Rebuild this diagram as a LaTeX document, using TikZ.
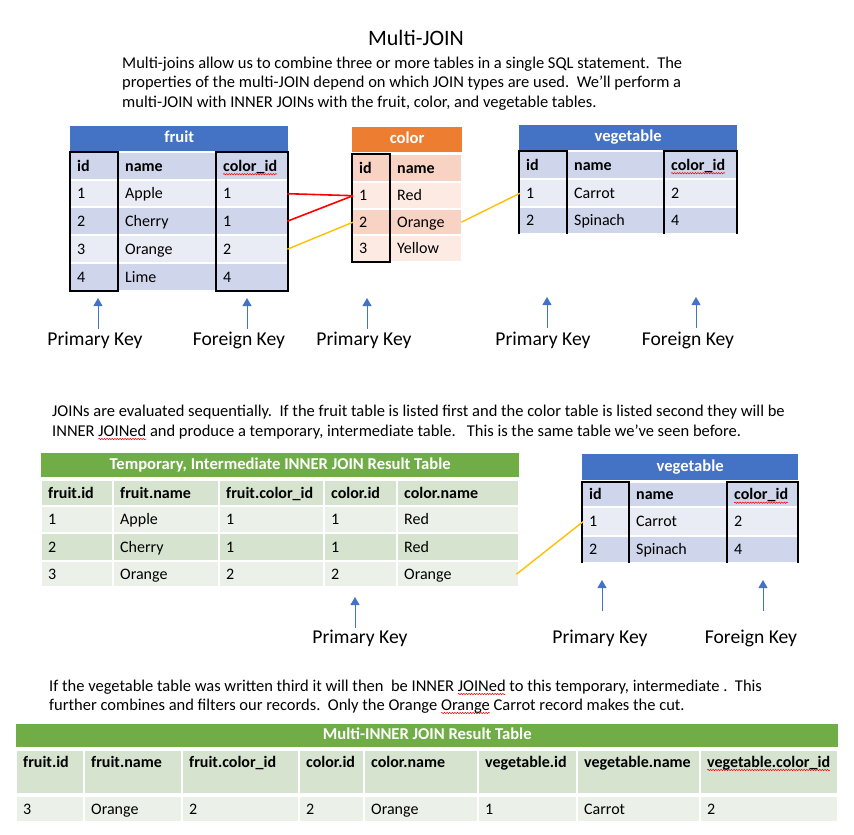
\documentclass[tikz,border=0pt]{standalone}
\usepackage{fontspec}
\setmainfont{Carlito}
\usetikzlibrary{arrows.meta,decorations.pathmorphing}
\definecolor{hblue}{HTML}{4472C4}
\definecolor{bdark}{HTML}{CFD5EA}
\definecolor{blight}{HTML}{E9EBF5}
\definecolor{horange}{HTML}{ED7D31}
\definecolor{odark}{HTML}{F8D3C3}
\definecolor{olight}{HTML}{FCEAE3}
\definecolor{hgreen}{HTML}{70AD47}
\definecolor{gdark}{HTML}{D5E3CF}
\definecolor{glight}{HTML}{EBF1E9}
\definecolor{linkyellow}{HTML}{FFC000}
\definecolor{linkred}{HTML}{FF0000}
\newsavebox\sqbox
\newcommand\sq[1]{\sbox\sqbox{#1}\rlap{\tikz[overlay,baseline=0pt]{\draw[linkred, line width=0.5pt, decorate, decoration={snake, amplitude=0.7pt, segment length=2.6pt}] (0pt,-3pt) -- (\wd\sqbox,-3pt);}}\usebox\sqbox}
\tikzset{
  cellbg/.style={rectangle, inner sep=0pt, draw=none},
  ctext/.style={inner sep=0pt, font=\fontsize{16}{19}\selectfont, text=black, anchor=base west},
  band/.style={rectangle, inner sep=0pt, anchor=north west, text=white, font=\fontsize{16.6}{19}\selectfont\bfseries, text height=11pt, text depth=3pt},
  tborder/.style={draw=black, line width=2pt},
  redlink/.style={draw=linkred, line width=1.6pt},
  yellink/.style={draw=linkyellow, line width=1.4pt},
  keyarrow/.style={draw=hblue, line width=1pt, -{Triangle[width=9pt,length=8pt]}},
  keylabel/.style={font=\fontsize{19.6}{23}\selectfont, inner sep=0pt, anchor=base},
  paraline/.style={font=\fontsize{16.5}{19.5}\selectfont, inner sep=0pt, anchor=base west},
}
% name, x1, y1, x2, y2, fill, text
\newcommand\tcell[7]{%
  \pgfmathsetmacro\cw{#4-#2-2}\pgfmathsetmacro\ch{#5-#3-2}%
  \node[cellbg, fill=#6, minimum width=\cw pt, minimum height=\ch pt, anchor=north west] (#1) at ({#2+1},{#3+1}) {};
  \node[ctext] (#1t) at ([xshift=6pt,yshift=-5pt]#1.west) {#7};
}
% top-aligned text variant
\newcommand\tcelltop[7]{%
  \pgfmathsetmacro\cw{#4-#2-2}\pgfmathsetmacro\ch{#5-#3-2}%
  \node[cellbg, fill=#6, minimum width=\cw pt, minimum height=\ch pt, anchor=north west] (#1) at ({#2+1},{#3+1}) {};
  \node[ctext] (#1t) at ([xshift=6pt,yshift=-16pt]#1.north west) {#7};
}
\newcommand\tband[7]{%
  \pgfmathsetmacro\cw{#4-#2}\pgfmathsetmacro\ch{#5-#3}%
  \node[band, fill=#6, minimum width=\cw pt, minimum height=\ch pt] (#1) at (#2,#3) {#7};
}
\begin{document}
\begin{tikzpicture}[x=1pt,y=-1pt]
\useasboundingbox (0,0) rectangle (854,835);
\fill[white] (0,0) rectangle (854,835);

% ---------- title and first paragraph ----------
\node[font=\fontsize{22}{26}\selectfont, inner sep=0pt, anchor=base] (title) at (416,45) {Multi-JOIN};
\node[paraline] (p1a) at (122,68) {Multi-joins allow us to combine three or more tables in a single SQL statement.\ \ The};
\node[paraline] (p1b) at (122,87.5) {properties of the multi-JOIN depend on which JOIN types are used.\ \ We’ll perform a};
\node[paraline] (p1c) at (122,107) {multi-JOIN with INNER JOINs with the fruit, color, and vegetable tables.};

% ---------- fruit table ----------
\tband{fruitband}{70}{126}{288}{151}{hblue}{fruit}
\tcell{f0id}{70}{152}{118}{180}{bdark}{\bfseries id}
\tcell{f0name}{118}{152}{216}{180}{bdark}{\bfseries name}
\tcell{f0cid}{216}{152}{288}{180}{bdark}{\bfseries\sq{color\_id}}
\tcell{f1id}{70}{180}{118}{207}{blight}{1}
\tcell{f1name}{118}{180}{216}{207}{blight}{Apple}
\tcell{f1cid}{216}{180}{288}{207}{blight}{1}
\tcell{f2id}{70}{207}{118}{235}{bdark}{2}
\tcell{f2name}{118}{207}{216}{235}{bdark}{Cherry}
\tcell{f2cid}{216}{207}{288}{235}{bdark}{1}
\tcell{f3id}{70}{235}{118}{263}{blight}{3}
\tcell{f3name}{118}{235}{216}{263}{blight}{Orange}
\tcell{f3cid}{216}{235}{288}{263}{blight}{2}
\tcell{f4id}{70}{263}{118}{291}{bdark}{4}
\tcell{f4name}{118}{263}{216}{291}{bdark}{Lime}
\tcell{f4cid}{216}{263}{288}{291}{bdark}{4}
\draw[tborder] (70,152) rectangle (118,291);
\draw[tborder] (216,152) rectangle (288,291);

% ---------- color table ----------
\tband{colorband}{352}{127}{462}{152}{horange}{color}
\tcell{c0id}{352}{154}{390}{182}{odark}{\bfseries id}
\tcell{c0name}{390}{154}{462}{182}{odark}{\bfseries name}
\tcell{c1id}{352}{182}{390}{209}{olight}{1}
\tcell{c1name}{390}{182}{462}{209}{olight}{Red}
\tcell{c2id}{352}{209}{390}{235}{odark}{2}
\tcell{c2name}{390}{209}{462}{235}{odark}{Orange}
\tcell{c3id}{352}{235}{390}{262}{olight}{3}
\tcell{c3name}{390}{235}{462}{262}{olight}{Yellow}
\draw[tborder] (352,154) rectangle (390,262);

% ---------- vegetable table ----------
\tband{vegband}{519}{125}{737}{150}{hblue}{vegetable}
\tcell{v0id}{519}{151}{567}{179}{bdark}{\bfseries id}
\tcell{v0name}{567}{151}{664}{179}{bdark}{\bfseries name}
\tcell{v0cid}{664}{151}{737}{179}{bdark}{\bfseries\sq{color\_id}}
\tcell{v1id}{519}{179}{567}{207}{blight}{1}
\tcell{v1name}{567}{179}{664}{207}{blight}{Carrot}
\tcell{v1cid}{664}{179}{737}{207}{blight}{2}
\tcell{v2id}{519}{207}{567}{234}{bdark}{2}
\tcell{v2name}{567}{207}{664}{234}{bdark}{Spinach}
\tcell{v2cid}{664}{207}{737}{234}{bdark}{4}
\draw[tborder] (519,234) -- (519,151) -- (567,151) -- (567,234);
\draw[tborder] (664,234) -- (664,151) -- (737,151) -- (737,234);

% ---------- links ----------
\draw[redlink] (f1cid.east) -- (c1id.west);
\draw[redlink] (f2cid.east) -- (c1id.west);
\draw[yellink] (f3cid.east) -- (c2id.west);
\draw[yellink] (c2name.east) -- (v1id.west);

% ---------- key labels (top) ----------
\node[keylabel] (k1) at (95,345) {Primary Key};
\node[keylabel] (k2) at (239,345) {Foreign Key};
\node[keylabel] (k3) at (364,345) {Primary Key};
\node[keylabel] (k4) at (543,345) {Primary Key};
\node[keylabel] (k5) at (688,345) {Foreign Key};
\coordinate (a1s) at (98,329);  \coordinate (a1e) at (98,298);
\coordinate (a2s) at (247,329); \coordinate (a2e) at (247,298);
\coordinate (a3s) at (367,329); \coordinate (a3e) at (367,298);
\coordinate (a4s) at (547,328); \coordinate (a4e) at (547,297);
\coordinate (a5s) at (696,328); \coordinate (a5e) at (696,297);
\draw[keyarrow] (a1s) -- (a1e);
\draw[keyarrow] (a2s) -- (a2e);
\draw[keyarrow] (a3s) -- (a3e);
\draw[keyarrow] (a4s) -- (a4e);
\draw[keyarrow] (a5s) -- (a5e);

% ---------- second paragraph ----------
\node[paraline] (p2a) at (52,416) {JOINs are evaluated sequentially.\ \ If the fruit table is listed first and the color table is listed second they will be};
\node[paraline] (p2b) at (52,436) {INNER \sq{JOINed} and produce a temporary, intermediate table.\ \ \ This is the same table we’ve seen before.};

% ---------- temporary table ----------
\tband{tempband}{41}{453}{519}{477}{hgreen}{Temporary, Intermediate INNER JOIN Result Table}
\tcell{t0a}{41}{480}{113}{506}{gdark}{\bfseries fruit.id}
\tcell{t0b}{113}{480}{219}{506}{gdark}{\bfseries fruit.name}
\tcell{t0c}{219}{480}{324}{506}{gdark}{\bfseries fruit.color\_id}
\tcell{t0d}{324}{480}{397}{506}{gdark}{\bfseries color.id}
\tcell{t0e}{397}{480}{519}{506}{gdark}{\bfseries color.name}
\tcell{t1a}{41}{506}{113}{533}{glight}{1}
\tcell{t1b}{113}{506}{219}{533}{glight}{Apple}
\tcell{t1c}{219}{506}{324}{533}{glight}{1}
\tcell{t1d}{324}{506}{397}{533}{glight}{1}
\tcell{t1e}{397}{506}{519}{533}{glight}{Red}
\tcell{t2a}{41}{533}{113}{561}{gdark}{2}
\tcell{t2b}{113}{533}{219}{561}{gdark}{Cherry}
\tcell{t2c}{219}{533}{324}{561}{gdark}{1}
\tcell{t2d}{324}{533}{397}{561}{gdark}{1}
\tcell{t2e}{397}{533}{519}{561}{gdark}{Red}
\tcell{t3a}{41}{561}{113}{587}{glight}{3}
\tcell{t3b}{113}{561}{219}{587}{glight}{Orange}
\tcell{t3c}{219}{561}{324}{587}{glight}{2}
\tcell{t3d}{324}{561}{397}{587}{glight}{2}
\tcell{t3e}{397}{561}{519}{587}{glight}{Orange}

% ---------- vegetable table (second) ----------
\tband{veg2band}{582}{454}{798}{480}{hblue}{vegetable}
\tcell{w0id}{582}{482}{629}{507}{bdark}{\bfseries id}
\tcell{w0name}{629}{482}{727}{507}{bdark}{\bfseries name}
\tcell{w0cid}{727}{482}{798}{507}{bdark}{\bfseries\sq{color\_id}}
\tcell{w1id}{582}{507}{629}{536}{blight}{1}
\tcell{w1name}{629}{507}{727}{536}{blight}{Carrot}
\tcell{w1cid}{727}{507}{798}{536}{blight}{2}
\tcell{w2id}{582}{536}{629}{563}{bdark}{2}
\tcell{w2name}{629}{536}{727}{563}{bdark}{Spinach}
\tcell{w2cid}{727}{536}{798}{563}{bdark}{4}
\draw[tborder] (582,563) -- (582,482) -- (629,482) -- (629,563);
\draw[tborder] (727,563) -- (727,482) -- (798,482) -- (798,563);

\draw[yellink] ([xshift=-2pt]t3e.east) -- (w1id.west);

% ---------- key labels (middle) ----------
\node[keylabel] (k6) at (360,643) {Primary Key};
\node[keylabel] (k7) at (600,643) {Primary Key};
\node[keylabel] (k8) at (751,643) {Foreign Key};
\coordinate (a6s) at (355,628); \coordinate (a6e) at (355,597);
\coordinate (a7s) at (602,611); \coordinate (a7e) at (602,580);
\coordinate (a8s) at (763,611); \coordinate (a8e) at (763,580);
\draw[keyarrow] (a6s) -- (a6e);
\draw[keyarrow] (a7s) -- (a7e);
\draw[keyarrow] (a8s) -- (a8e);

% ---------- third paragraph ----------
\node[paraline] (p3a) at (49,691) {If the vegetable table was written third it will then\ \ be INNER \sq{JOINed} to this temporary, intermediate .\ \ This};
\node[paraline] (p3b) at (49,710) {further combines and filters our records.\ \ Only the Orange \sq{Orange} Carrot record makes the cut.};

% ---------- final table ----------
\tband{finalband}{16}{724}{838}{747}{hgreen}{Multi-INNER JOIN Result Table}
\tcelltop{m0a}{16}{750}{84}{794}{gdark}{\bfseries fruit.id}
\tcelltop{m0b}{84}{750}{182}{794}{gdark}{\bfseries fruit.name}
\tcelltop{m0c}{182}{750}{299}{794}{gdark}{\bfseries fruit.color\_id}
\tcelltop{m0d}{299}{750}{364}{794}{gdark}{\bfseries color.id}
\tcelltop{m0e}{364}{750}{478}{794}{gdark}{\bfseries color.name}
\tcelltop{m0f}{478}{750}{577}{794}{gdark}{\bfseries vegetable.id}
\tcelltop{m0g}{577}{750}{700}{794}{gdark}{\bfseries vegetable.name}
\tcelltop{m0h}{700}{750}{838}{794}{gdark}{\bfseries\sq{vegetable.color\_id}}
\tcell{m1a}{16}{796}{84}{822}{glight}{3}
\tcell{m1b}{84}{796}{182}{822}{glight}{Orange}
\tcell{m1c}{182}{796}{299}{822}{glight}{2}
\tcell{m1d}{299}{796}{364}{822}{glight}{2}
\tcell{m1e}{364}{796}{478}{822}{glight}{Orange}
\tcell{m1f}{478}{796}{577}{822}{glight}{1}
\tcell{m1g}{577}{796}{700}{822}{glight}{Carrot}
\tcell{m1h}{700}{796}{838}{822}{glight}{2}
\end{tikzpicture}
\end{document}
